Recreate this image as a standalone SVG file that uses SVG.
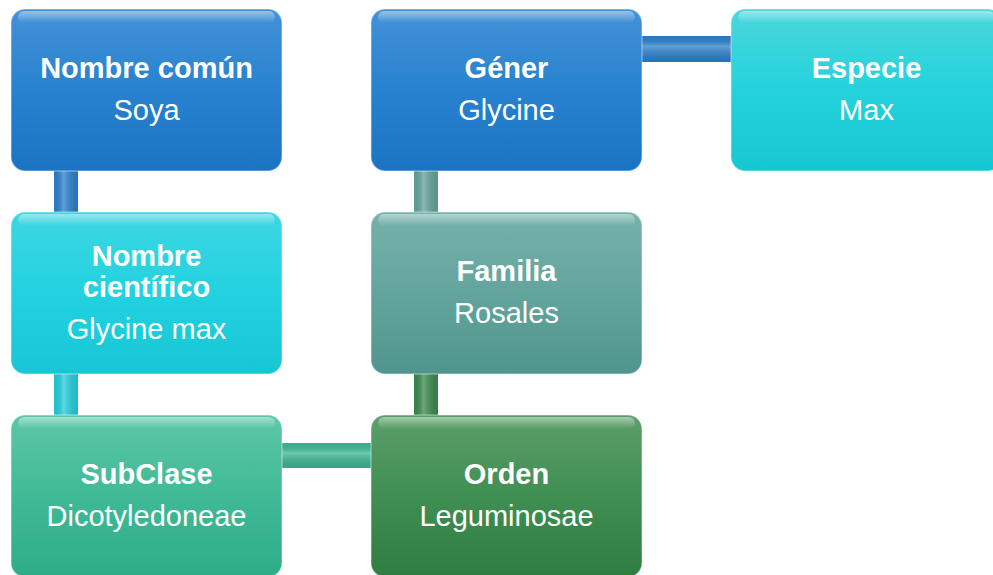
<svg xmlns="http://www.w3.org/2000/svg" width="993" height="575" viewBox="0 0 993 575">
<defs>
<linearGradient id="gBlue" x1="0" y1="0" x2="0" y2="1"><stop offset="0" stop-color="#4392d6"/><stop offset="0.5" stop-color="#2882cf"/><stop offset="1" stop-color="#1a74c3"/></linearGradient>
<linearGradient id="gCyan" x1="0" y1="0" x2="0" y2="1"><stop offset="0" stop-color="#3ed6e2"/><stop offset="0.5" stop-color="#22d2e0"/><stop offset="1" stop-color="#16c6d4"/></linearGradient>
<linearGradient id="gCyan2" x1="0" y1="0" x2="0" y2="1"><stop offset="0" stop-color="#4bd7dc"/><stop offset="0.5" stop-color="#24d2dc"/><stop offset="1" stop-color="#16c7d2"/></linearGradient>
<linearGradient id="gTeal" x1="0" y1="0" x2="0" y2="1"><stop offset="0" stop-color="#5cc7a6"/><stop offset="0.5" stop-color="#40ba96"/><stop offset="1" stop-color="#2eac88"/></linearGradient>
<linearGradient id="gGreen" x1="0" y1="0" x2="0" y2="1"><stop offset="0" stop-color="#5c9e6a"/><stop offset="0.5" stop-color="#408f52"/><stop offset="1" stop-color="#2f7d40"/></linearGradient>
<linearGradient id="gGrey" x1="0" y1="0" x2="0" y2="1"><stop offset="0" stop-color="#76b1aa"/><stop offset="0.5" stop-color="#63a59d"/><stop offset="1" stop-color="#50958d"/></linearGradient>
<linearGradient id="hl" x1="0" y1="0" x2="0" y2="1"><stop offset="0" stop-color="#ffffff" stop-opacity="0.45"/><stop offset="1" stop-color="#ffffff" stop-opacity="0"/></linearGradient>
<linearGradient id="barV" x1="0" y1="0" x2="1" y2="0"><stop offset="0" stop-color="#000" stop-opacity="0.05"/><stop offset="0.4" stop-color="#fff" stop-opacity="0.25"/><stop offset="1" stop-color="#000" stop-opacity="0.1"/></linearGradient>
<linearGradient id="barH" x1="0" y1="0" x2="0" y2="1"><stop offset="0" stop-color="#000" stop-opacity="0.05"/><stop offset="0.4" stop-color="#fff" stop-opacity="0.25"/><stop offset="1" stop-color="#000" stop-opacity="0.1"/></linearGradient>
</defs>
<style>
.box{stroke:#ffffff;stroke-opacity:0.35;stroke-width:1.5}
.shine{fill:url(#hl)}
.t{font-family:"Liberation Sans",Arial,sans-serif;font-size:29px;fill:#ffffff;text-anchor:middle}
.b{font-weight:bold}
</style>
<g id="connectors">
<rect x="54" y="168" width="24" height="48" fill="#2a80cc"/><rect x="54" y="168" width="24" height="48" fill="url(#barV)"/>
<rect x="54" y="370" width="24" height="48" fill="#22cfdd"/><rect x="54" y="370" width="24" height="48" fill="url(#barV)"/>
<rect x="279" y="443" width="95" height="25" fill="#3cb894"/><rect x="279" y="443" width="95" height="25" fill="url(#barH)"/>
<rect x="414" y="370" width="24" height="48" fill="#3a8a4d"/><rect x="414" y="370" width="24" height="48" fill="url(#barV)"/>
<rect x="414" y="168" width="24" height="48" fill="#62a49c"/><rect x="414" y="168" width="24" height="48" fill="url(#barV)"/>
<rect x="639" y="36" width="95" height="26" fill="#2a80cc"/><rect x="639" y="36" width="95" height="26" fill="url(#barH)"/>
</g>
<g id="n-comun">
<rect class="box" x="11" y="9" width="271" height="162" rx="14" fill="url(#gBlue)"/>
<rect class="shine" x="18" y="11" width="257" height="12" rx="6"/>
<text class="t b" x="146.5" y="78">Nombre común</text>
<text class="t" x="146.5" y="120">Soya</text>
</g>
<g id="n-cientifico">
<rect class="box" x="11" y="212" width="271" height="162" rx="14" fill="url(#gCyan)"/>
<rect class="shine" x="18" y="214" width="257" height="12" rx="6"/>
<text class="t b" x="146.5" y="266">Nombre</text>
<text class="t b" x="146.5" y="297">científico</text>
<text class="t" x="146.5" y="339">Glycine max</text>
</g>
<g id="n-subclase">
<rect class="box" x="11" y="415" width="271" height="162" rx="14" fill="url(#gTeal)"/>
<rect class="shine" x="18" y="417" width="257" height="12" rx="6"/>
<text class="t b" x="146.5" y="484">SubClase</text>
<text class="t" x="146.5" y="526">Dicotyledoneae</text>
</g>
<g id="n-orden">
<rect class="box" x="371" y="415" width="271" height="162" rx="14" fill="url(#gGreen)"/>
<rect class="shine" x="378" y="417" width="257" height="12" rx="6"/>
<text class="t b" x="506.5" y="484">Orden</text>
<text class="t" x="506.5" y="526">Leguminosae</text>
</g>
<g id="n-familia">
<rect class="box" x="371" y="212" width="271" height="162" rx="14" fill="url(#gGrey)"/>
<rect class="shine" x="378" y="214" width="257" height="12" rx="6"/>
<text class="t b" x="506.5" y="281">Familia</text>
<text class="t" x="506.5" y="323">Rosales</text>
</g>
<g id="n-gener">
<rect class="box" x="371" y="9" width="271" height="162" rx="14" fill="url(#gBlue)"/>
<rect class="shine" x="378" y="11" width="257" height="12" rx="6"/>
<text class="t b" x="506.5" y="78">Géner</text>
<text class="t" x="506.5" y="120">Glycine</text>
</g>
<g id="n-especie">
<rect class="box" x="731" y="9" width="271" height="162" rx="14" fill="url(#gCyan2)"/>
<rect class="shine" x="738" y="11" width="257" height="12" rx="6"/>
<text class="t b" x="866.5" y="78">Especie</text>
<text class="t" x="866.5" y="120">Max</text>
</g>
</svg>
